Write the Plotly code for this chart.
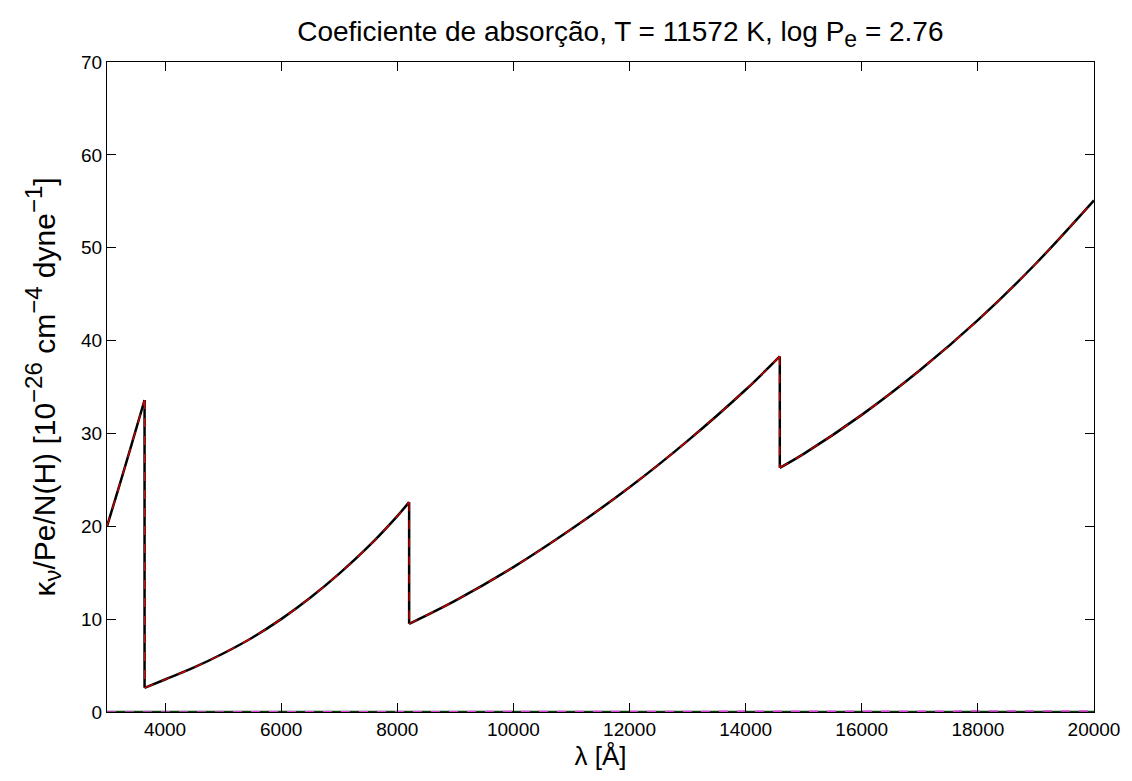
import plotly.graph_objects as go

# wavelength (Angstrom) and kappa values, one list per continuous segment
seg_lam = [
    [3000, 3200, 3400, 3647],
    [3647, 4000, 4500, 5000, 5500, 6000, 6500, 7000, 7500, 8000, 8204],
    [8204, 9000, 10000, 11000, 12000, 13000, 14000, 14588],
    [14588, 15000, 16000, 17000, 18000, 19000, 20000],
]
seg_kappa = [
    [20.0, 24.1, 28.3, 33.6],
    [2.6, 3.5, 4.8, 6.3, 8.0, 10.0, 12.3, 14.9, 17.8, 21.1, 22.6],
    [9.5, 12.0, 15.6, 19.7, 24.2, 29.2, 34.7, 38.3],
    [26.3, 27.8, 32.0, 36.8, 42.2, 48.3, 55.1],
]

lam_small = [3000, 6000, 9000, 12000, 14000, 16000, 18000, 20000]
kappa_small = [0.0, 0.01, 0.02, 0.04, 0.055, 0.07, 0.09, 0.11]

lam_zero = [3000, 20000]
kappa_zero = [0.0, 0.0]

# build combined x/y with gaps between segments, plus the vertical jumps at the edges
xs, ys = [], []
jx, jy = [], []
for i, (lx, ky) in enumerate(zip(seg_lam, seg_kappa)):
    xs += lx + [None]
    ys += ky + [None]
    if i + 1 < len(seg_lam):
        jx += [lx[-1], seg_lam[i + 1][0], None]
        jy += [ky[-1], seg_kappa[i + 1][0], None]

fig = go.Figure()
fig.add_trace(go.Scatter(x=lam_zero, y=kappa_zero, mode="lines",
                         line=dict(color="#0b3f0b", width=2.5), showlegend=False))
fig.add_trace(go.Scatter(x=lam_small, y=kappa_small, mode="lines",
                         line=dict(color="#e040e0", width=1.5, dash="dash"), showlegend=False))
for color, width, dash in [("black", 2.5, "solid"), ("#e00000", 1.2, "dash")]:
    fig.add_trace(go.Scatter(x=xs, y=ys, mode="lines", connectgaps=False,
                             line=dict(color=color, width=width, dash=dash, shape="spline", smoothing=1.0),
                             showlegend=False))
    fig.add_trace(go.Scatter(x=jx, y=jy, mode="lines", connectgaps=False,
                             line=dict(color=color, width=width, dash=dash),
                             showlegend=False))

font = "Liberation Sans, Arial, sans-serif"
axis_common = dict(showline=True, mirror="ticks", linecolor="black", linewidth=1,
                   ticks="inside", ticklen=9, tickcolor="black", tickwidth=1,
                   showgrid=False, zeroline=False,
                   tickfont=dict(family=font, size=19, color="black"))


def small(t, px):
    return '<span style="font-size:' + str(px) + 'px">' + t + '</span>'


ytitle = ("κ<sub>" + small("ν", 24) + "</sub>/Pe/N(H) [10<sup>" + small("−26", 24) + "</sup> cm<sup>"
          + small("−4", 24) + "</sup> dyne<sup>" + small("−1", 24) + "</sup>]")

fig.update_layout(
    width=1132, height=781,
    paper_bgcolor="white", plot_bgcolor="white",
    margin=dict(l=107, r=35, t=62, b=69),
    title=dict(text="Coeficiente de absorção, T = 11572 K, log P<sub>" + small("e", 23) + "</sub> = 2.76",
               x=0.548, xanchor="center", y=0.96, yanchor="middle",
               font=dict(family=font, size=28, color="black")),
    xaxis=dict(range=[3000, 20000], tickvals=[4000, 6000, 8000, 10000, 12000, 14000, 16000, 18000, 20000],
               tickformat="d",
               title=dict(text="λ [Å]", font=dict(family=font, size=26, color="black"), standoff=8),
               **axis_common),
    yaxis=dict(range=[0, 70], tickvals=[0, 10, 20, 30, 40, 50, 60, 70], tickformat="d",
               title=dict(text=ytitle, font=dict(family=font, size=30, color="black"), standoff=16),
               **axis_common),
)

fig.write_html("out.html")
